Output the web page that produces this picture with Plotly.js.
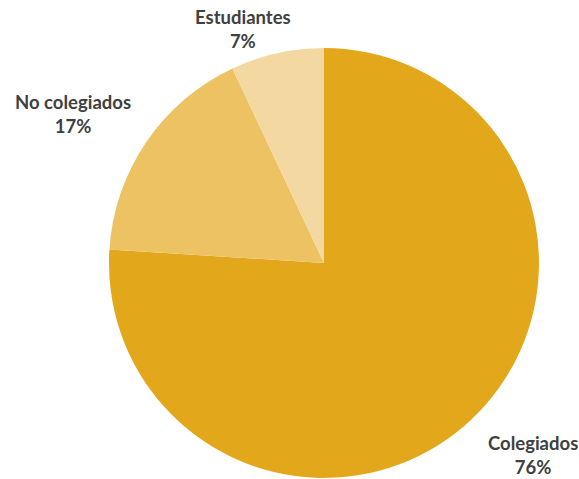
<!DOCTYPE html>
<html>
<head>
<meta charset="utf-8">
<script src="https://cdn.plot.ly/plotly-3.0.1.min.js"></script>
<style>
html, body { margin: 0; padding: 0; background: #ffffff; overflow: hidden; }
#chart { width: 579px; height: 479px; }
</style>
</head>
<body>
<div id="chart"></div>
<script>
const categories = ["Colegiados", "No colegiados", "Estudiantes"];
const values = [76, 17, 7];
const colors = ["#E3A71C", "#ECC263", "#F3D9A1"];

// Label anchor positions (paper coordinates) for each category
const labelX = [533 / 579, 73 / 579, 243 / 579];
const labelY = [1 - 455 / 479, 1 - 114 / 479, 1 - 29 / 479];

const total = values.reduce((a, b) => a + b, 0);
const annotations = categories.map((c, i) => ({
  x: labelX[i], y: labelY[i], xref: "paper", yref: "paper",
  xanchor: "center", yanchor: "middle", showarrow: false,
  align: "center",
  text: c + "<br>" + Math.round(values[i] / total * 100) + "%",
  font: { family: "Lato, 'Open Sans', sans-serif", size: 18.5, color: "#404040", weight: "bold" }
}));

const trace = {
  type: "pie",
  labels: categories,
  values: values,
  sort: false,
  direction: "clockwise",
  rotation: 0,
  textinfo: "none",
  hoverinfo: "label+percent",
  marker: { colors: colors, line: { width: 0 } },
  domain: { x: [109 / 579, 539 / 579], y: [1 - 478 / 479, 1 - 48 / 479] },
  showlegend: false
};

const layout = {
  width: 579, height: 479,
  margin: { l: 0, r: 0, t: 0, b: 0 },
  paper_bgcolor: "#ffffff",
  plot_bgcolor: "#ffffff",
  annotations: annotations
};

Plotly.newPlot("chart", [trace], layout, { displayModeBar: false, staticPlot: true });
</script>
</body>
</html>
